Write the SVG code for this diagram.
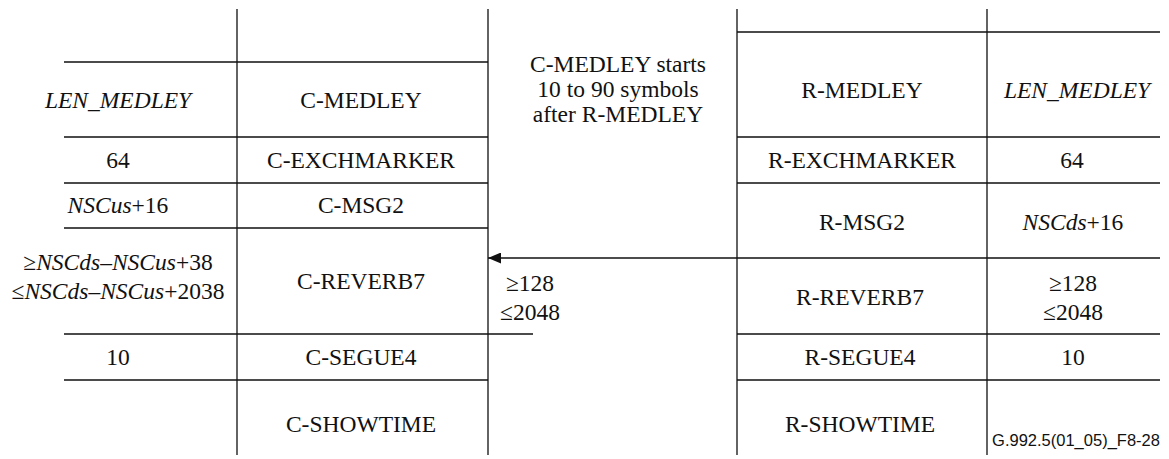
<svg xmlns="http://www.w3.org/2000/svg" width="1169" height="459" viewBox="0 0 1169 459">
<defs>
<style>
.ln{stroke:#111;stroke-width:1.3;fill:none}
.t{font-family:'Liberation Serif','Times New Roman',Times,serif;font-size:23.5px;fill:#111;text-anchor:middle}
.i{font-style:italic}
.f{font-family:'Liberation Sans',Arial,sans-serif;font-size:16.5px;fill:#111;text-anchor:middle}
</style>
<marker id="ah" viewBox="0 0 13 11" refX="13" refY="5.5" markerWidth="13" markerHeight="11" markerUnits="userSpaceOnUse" orient="auto">
<path d="M0,0 L13,5.5 L0,11 Z" fill="#111"/>
</marker>
</defs>
<rect width="1169" height="459" fill="#fff"/>
<g id="grid">
<path class="ln" d="M237,9V455M488,9V455M737,9V455M987,9V455"/>
<path class="ln" d="M64,62H488M64,137H488M64,183H488M64,228H488M64,334H533M64,380H488"/>
<path class="ln" d="M737,32H1160M737,137H1160M737,183H1160M737,258H1160M737,334H1160M737,380H1160"/>
</g>
<g id="connectors">
<line class="ln" x1="737" y1="258" x2="488" y2="258" marker-end="url(#ah)"/>
</g>
<g id="c-medley"><text class="t" x="118" y="108"><tspan class="i">LEN_MEDLEY</tspan></text><text class="t" x="361" y="108">C-MEDLEY</text></g>
<g id="c-exchmarker"><text class="t" x="118" y="168">64</text><text class="t" x="361" y="168">C-EXCHMARKER</text></g>
<g id="c-msg2"><text class="t" x="118" y="213"><tspan class="i">NSCus</tspan>+16</text><text class="t" x="361" y="213">C-MSG2</text></g>
<g id="c-reverb7"><text class="t" x="118" y="270">≥<tspan class="i">NSCds–NSCus</tspan>+38</text><text class="t" x="118" y="299">≤<tspan class="i">NSCds–NSCus</tspan>+2038</text><text class="t" x="361" y="289">C-REVERB7</text></g>
<g id="c-segue4"><text class="t" x="118" y="365">10</text><text class="t" x="361" y="365">C-SEGUE4</text></g>
<g id="c-showtime"><text class="t" x="361" y="432">C-SHOWTIME</text></g>
<g id="note"><text class="t" x="618" y="72">C-MEDLEY starts</text><text class="t" x="618" y="97">10 to 90 symbols</text><text class="t" x="618" y="122">after R-MEDLEY</text></g>
<g id="delay"><text class="t" x="530" y="291">≥128</text><text class="t" x="530" y="320">≤2048</text></g>
<g id="r-medley"><text class="t" x="862" y="98">R-MEDLEY</text><text class="t" x="1077" y="98"><tspan class="i">LEN_MEDLEY</tspan></text></g>
<g id="r-exchmarker"><text class="t" x="862" y="168">R-EXCHMARKER</text><text class="t" x="1072" y="168">64</text></g>
<g id="r-msg2"><text class="t" x="862" y="230">R-MSG2</text><text class="t" x="1073" y="230"><tspan class="i">NSCds</tspan>+16</text></g>
<g id="r-reverb7"><text class="t" x="860" y="305">R-REVERB7</text><text class="t" x="1073" y="291">≥128</text><text class="t" x="1073" y="320">≤2048</text></g>
<g id="r-segue4"><text class="t" x="860" y="365">R-SEGUE4</text><text class="t" x="1073" y="365">10</text></g>
<g id="r-showtime"><text class="t" x="860" y="432">R-SHOWTIME</text></g>
<text class="f" x="1076" y="446">G.992.5(01_05)_F8-28</text>
</svg>
